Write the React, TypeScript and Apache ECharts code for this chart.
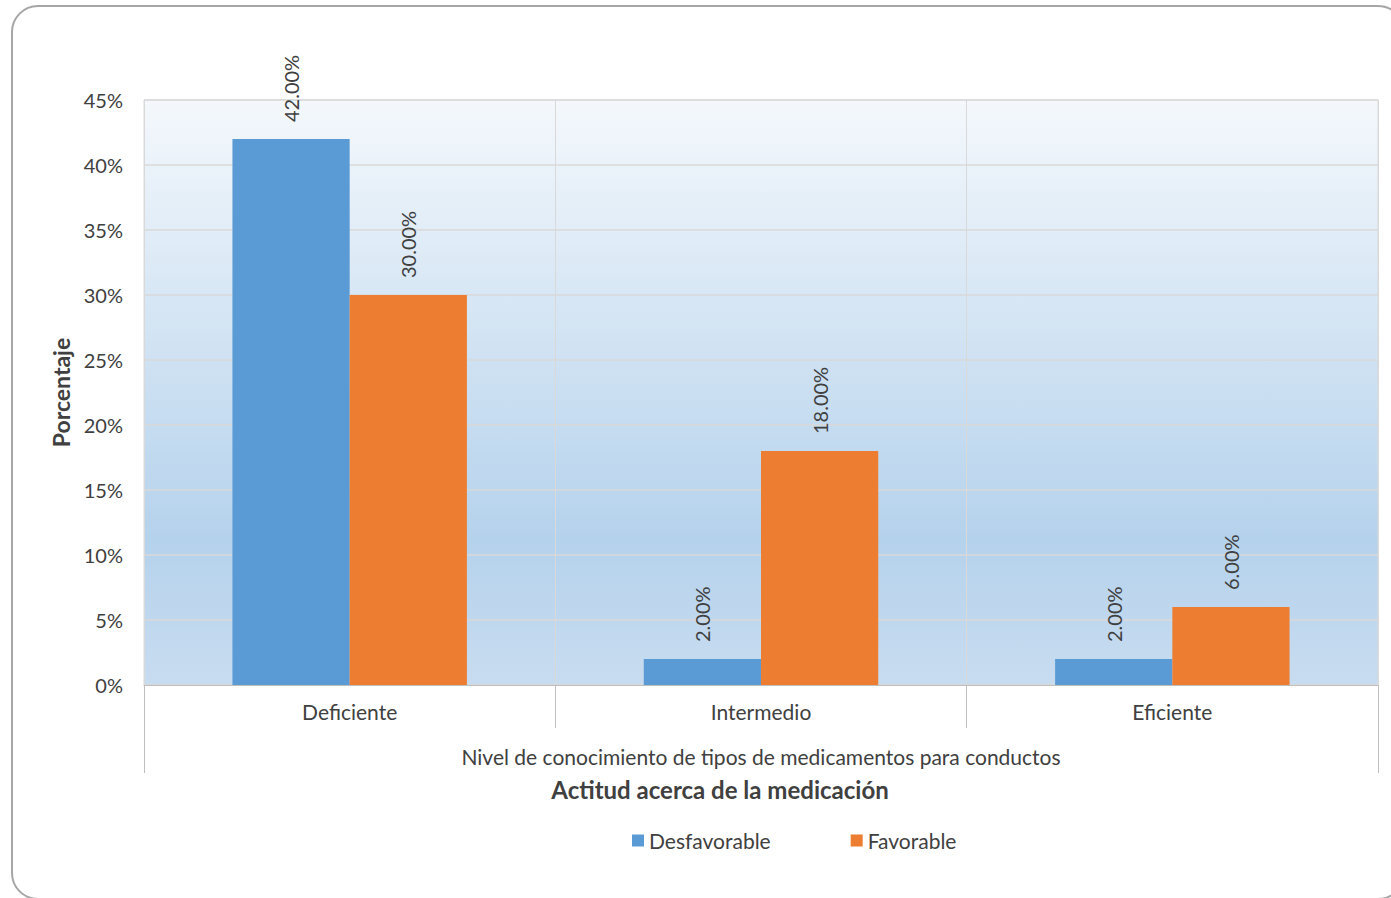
import React, { useEffect, useRef } from "react";
import * as echarts from "echarts";

const categories = ["Deficiente", "Intermedio", "Eficiente"];
const outerCategory = ["Nivel de conocimiento de tipos de medicamentos para conductos"];
const desfavorable = [42, 2, 2];
const favorable = [30, 18, 6];
const seriesNames = ["Desfavorable", "Favorable"];

const FONT = "Lato, 'Open Sans', sans-serif";

export default function App() {
  const ref = useRef<HTMLDivElement>(null);
  useEffect(() => {
    if (!ref.current) return;
    const chart = echarts.init(ref.current, undefined, { renderer: "svg" });
    const labelCfg = {
      show: true,
      position: "top",
      rotate: 90,
      align: "left",
      verticalAlign: "middle",
      distance: 17,
      color: "#404040",
      fontSize: 20,
      fontFamily: FONT,
      formatter: (p: any) => p.value.toFixed(2) + "%",
    };
    chart.setOption({
      animation: false,
      backgroundColor: "#ffffff",
      textStyle: { fontFamily: FONT },
      graphic: [
        {
          type: "rect",
          shape: { x: 12, y: 6, width: 1392, height: 893, r: 26 },
          style: { fill: "none", stroke: "#a6a6a6", lineWidth: 2 },
          silent: true,
        },
        {
          type: "text",
          x: 720,
          y: 789,
          style: {
            text: "Actitud acerca de la medicación",
            fill: "#404040",
            font: "bold 24px " + FONT,
            textAlign: "center",
            textVerticalAlign: "middle",
          },
        },
      ],
      grid: {
        left: 144,
        top: 100,
        width: 1234,
        height: 585,
        show: true,
        borderColor: "#d9d9d9",
        borderWidth: 1,
        backgroundColor: new echarts.graphic.LinearGradient(0, 0, 0, 1, [
          { offset: 0, color: "#f4f8fc" },
          { offset: 0.75, color: "#b5d2ec" },
          { offset: 1, color: "#c8dcf0" },
        ]),
      },
      legend: {
        data: seriesNames,
        left: 627,
        top: 825,
        itemGap: 80,
        itemWidth: 12,
        itemHeight: 12,
        icon: "rect",
        textStyle: { color: "#404040", fontSize: 21, fontFamily: FONT },
      },
      xAxis: [
        {
          type: "category",
          data: categories,
          axisLine: { show: true, lineStyle: { color: "#bfbfbf", width: 1 } },
          axisTick: { show: true, length: 43, lineStyle: { color: "#bfbfbf" } },
          splitLine: { show: true, lineStyle: { color: "#d9d9d9" } },
          axisLabel: { color: "#404040", fontSize: 21, margin: 16, fontFamily: FONT },
        },
        {
          type: "category",
          data: outerCategory,
          position: "bottom",
          offset: 43,
          axisLine: { show: false },
          axisTick: { show: true, length: 45, lineStyle: { color: "#bfbfbf" } },
          axisLabel: { color: "#404040", fontSize: 21, margin: 18, fontFamily: FONT },
        },
      ],
      yAxis: {
        type: "value",
        min: 0,
        max: 45,
        interval: 5,
        name: "Porcentaje",
        nameLocation: "middle",
        nameGap: 72,
        nameTextStyle: { color: "#404040", fontSize: 23, fontWeight: "bold", fontFamily: FONT },
        axisLine: { show: false },
        axisTick: { show: false },
        axisLabel: { color: "#404040", fontSize: 20, margin: 21, formatter: "{value}%", fontFamily: FONT },
        splitLine: { show: true, lineStyle: { color: "#d9d9d9", width: 1.5 } },
      },
      series: [
        {
          name: seriesNames[0],
          type: "bar",
          data: desfavorable,
          itemStyle: { color: "#5b9bd5" },
          barGap: "0%",
          barCategoryGap: "43%",
          label: labelCfg,
        },
        {
          name: seriesNames[1],
          type: "bar",
          data: favorable,
          itemStyle: { color: "#ed7d31" },
          barGap: "0%",
          barCategoryGap: "43%",
          label: labelCfg,
        },
      ],
    });
    return () => chart.dispose();
  }, []);
  return (
    <div
      ref={ref}
      style={{ position: "absolute", left: 0, top: 0, width: 1391, height: 898 }}
    />
  );
}
